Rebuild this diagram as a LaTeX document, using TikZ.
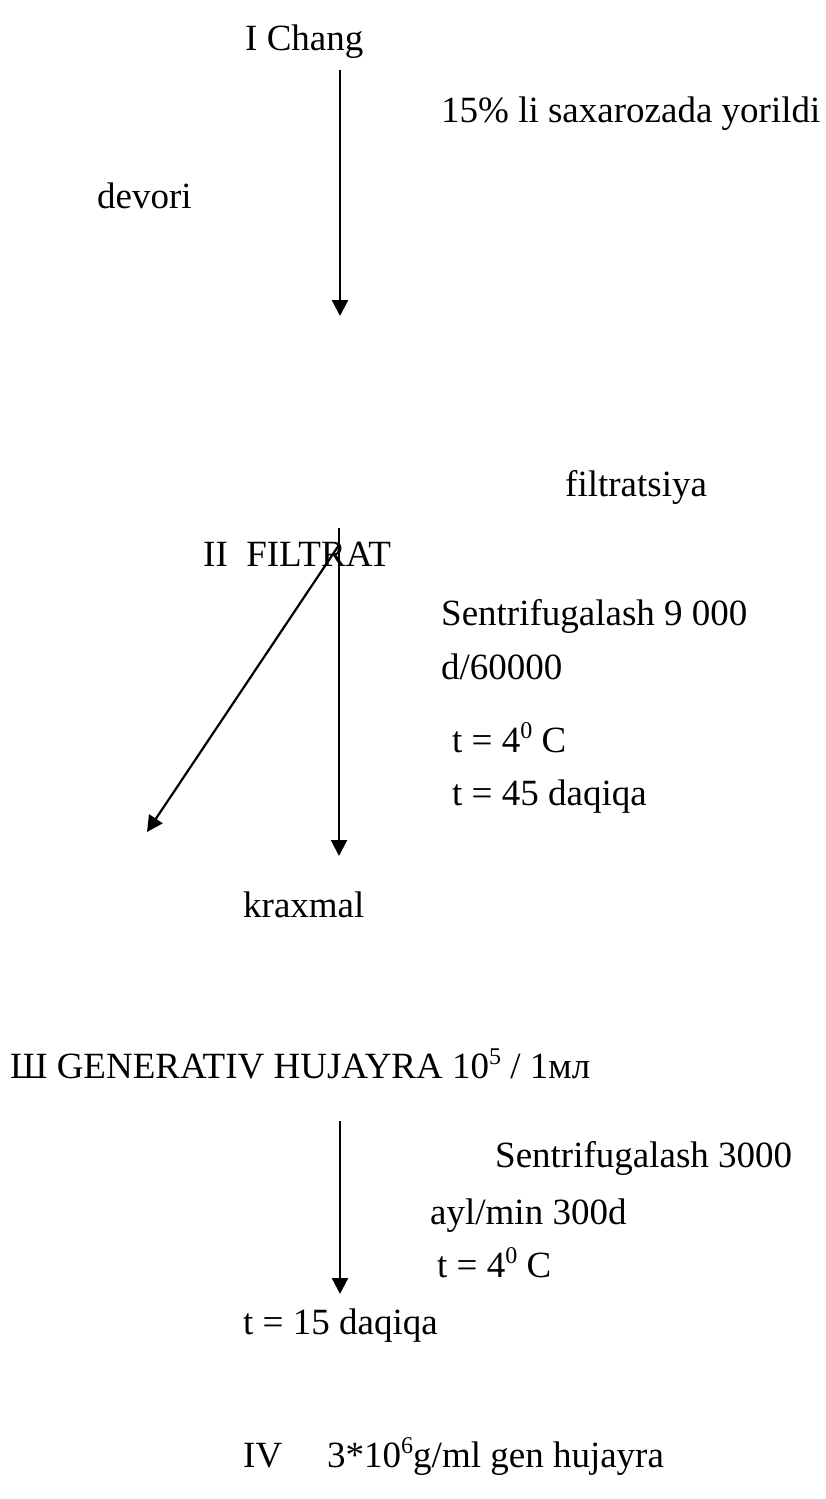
\documentclass[tikz,border=0pt]{standalone}
\usepackage{fontspec}
\setmainfont{Liberation Serif}
\usetikzlibrary{arrows.meta}
\newcommand\mysup[1]{\raisebox{0.36em}{\fontsize{24}{24}\selectfont #1}}
\begin{document}
\begin{tikzpicture}[x=1pt,y=-1pt,
  txt/.style={anchor=base west, inner sep=0pt, font=\fontsize{37}{44}\selectfont},
  arr/.style={line width=2.2pt, -{Triangle[length=16pt,width=16pt]}}]
\useasboundingbox (0,0) rectangle (826,1499);
\fill[white] (0,0) rectangle (826,1499);
% texts
\node[txt] (chang) at (245,50) {I Chang};
\node[txt] (sax) at (441,122) {15\% li saxarozada yorildi};
\node[txt] (devori) at (97,208) {devori};
\node[txt] (filtr) at (565,496) {filtratsiya};
\node[txt] (filtrat) at (203,566) {II\ \ FILTRAT};
\node[txt] (sent1) at (441,625) {Sentrifugalash 9 000};
\node[txt] (d6) at (441,679) {d/60000};
\node[txt] (t4a) at (452,752) {t = 4\mysup{0} C};
\node[txt] (t45) at (452,805) {t = 45 daqiqa};
\node[txt] (krax) at (243,917) {kraxmal};
\node[txt] (gen) at (10,1078) {Ш GENERATIV HUJAYRA 10\mysup{5} / 1мл};
\node[txt] (sent2) at (495,1167) {Sentrifugalash 3000};
\node[txt] (ayl) at (430,1224) {ayl/min 300d};
\node[txt] (t4b) at (437,1277) {t = 4\mysup{0} C};
\node[txt] (t15) at (243,1334) {t = 15 daqiqa};
\node[txt] (iv) at (243,1467) {IV\hspace{45pt}3*10\mysup{6}g/ml gen hujayra};
% arrow end points
\coordinate (a1s) at (340,70);
\coordinate (a1e) at (340,316);
\coordinate (a2s) at (339,528);
\coordinate (a2e) at (339,856);
\coordinate (fork) at (339,545);
\coordinate (a3e) at (147,832);
\coordinate (a4s) at (340,1121);
\coordinate (a4e) at (340,1294);
% arrows
\draw[arr] (a1s) -- (a1e);
\draw[arr] (a2s) -- (a2e);
\draw[arr] (fork) -- (a3e);
\draw[arr] (a4s) -- (a4e);
\end{tikzpicture}
\end{document}
